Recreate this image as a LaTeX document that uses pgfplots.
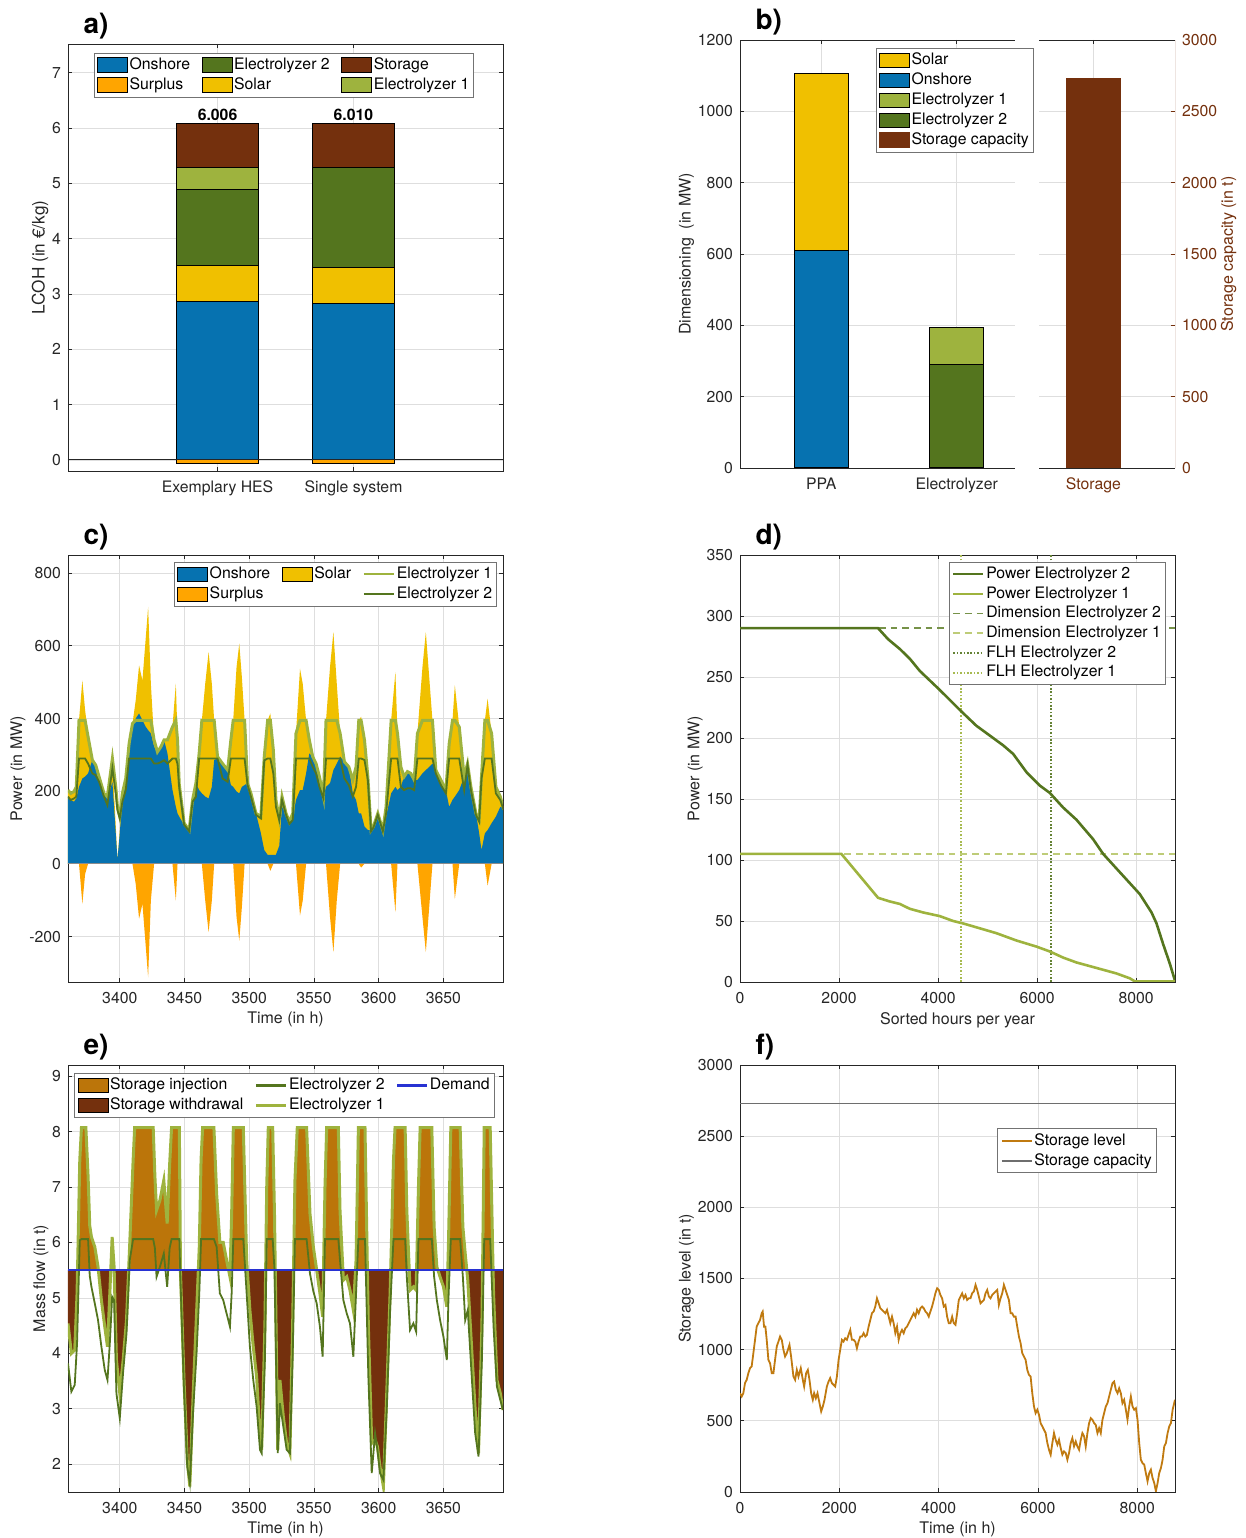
\documentclass[border=0pt]{standalone}
\usepackage{fontspec}
\setmainfont{TeX Gyre Heros}
\usepackage{pgfplots}
\usepackage{pgfplotstable}
\pgfplotsset{compat=1.18}

\definecolor{onshore}{RGB}{6,114,176}
\definecolor{solar}{RGB}{240,192,0}
\definecolor{surplus}{RGB}{255,165,0}
\definecolor{elyA}{RGB}{158,179,62}
\definecolor{elyB}{RGB}{84,117,30}
\definecolor{storage}{RGB}{116,48,13}
\definecolor{inject}{RGB}{187,117,10}
\definecolor{demand}{RGB}{40,50,210}
\definecolor{level}{RGB}{192,122,16}
\definecolor{capc}{RGB}{110,110,110}
\definecolor{axc}{RGB}{38,38,38}
\definecolor{dimB}{RGB}{118,146,72}
\definecolor{dimA}{RGB}{190,204,120}

\newcommand\tfont{\fontsize{7.9}{9.2}\selectfont}
\newcommand\lfont{\fontsize{8}{9.6}\selectfont}
\newcommand\pfont{\bfseries\fontsize{14}{16}\selectfont}

\tikzset{
  boxleg/.style={/pgfplots/legend image code/.code={\draw[##1] (0pt,-3.6pt) rectangle (15pt,3.6pt);}},
  lineleg/.style={/pgfplots/legend image code/.code={\draw[##1] (0pt,0pt) -- (15pt,0pt);}},
}

\pgfplotsset{
  mat/.style={
    scale only axis, anchor=north west,
    width=217.5pt, height=213.5pt,
    axis line style={draw=axc, line width=0.45pt},
    tick style={draw=axc, line width=0.45pt},
    major tick length=2.2pt,
    tick align=inside,
    xmajorgrids, ymajorgrids,
    major grid style={draw=black!13, line width=0.4pt},
    ticklabel style={font=\tfont, text=axc},
    xticklabel style={yshift=-1.5pt},
    label style={font=\lfont, text=axc},
    ylabel shift=-5pt,
    xlabel shift=-2.5pt,
    legend style={font=\tfont, draw=black!55, line width=0.45pt, fill=white,
      inner xsep=1.5pt, inner ysep=1pt, nodes={inner xsep=0.8pt, inner ysep=1.3pt},
      /tikz/every even column/.append style={column sep=5pt}},
    legend cell align=left,
    /pgf/number format/assume math mode=true,
    /pgf/number format/1000 sep={},
    scaled ticks=false,
    title style={font=\pfont, anchor=south west, inner sep=0pt, yshift=-4pt, at={(0.035,1)}},
  },
}

% ---------- panel c data
\pgfplotstableread{
t on tot e1 e2 sur
3360.0 185 199 203 185 0
3362.1 176 194 194 176 0
3364.6 171 199 199 180 0
3366.4 180 212 212 185 0
3368.5 212 395 395 290 0
3371.1 235 505 395 290 -110
3373.2 240 423 395 290 -28
3375.5 249 359 350 276 0
3378.8 286 286 286 249 0
3381.4 272 272 272 244 0
3384.0 244 244 240 226 0
3387.8 199 199 194 185 0
3390.4 176 185 185 162 0
3394.3 226 290 290 263 0
3396.9 84 103 212 194 0
3398.2 11 11 157 148 0
3400.0 84 93 130 125 0
3402.0 185 185 194 171 0
3404.6 231 231 235 203 0
3407.2 331 331 331 290 0
3409.8 377 386 386 290 0
3412.3 400 450 395 290 -55
3414.9 414 546 395 290 -151
3417.5 395 505 395 290 -110
3420.1 377 624 395 290 -229
3421.9 368 707 395 290 -312
3424.0 359 496 395 290 -101
3426.5 322 341 341 276 0
3429.1 308 308 308 276 0
3431.7 322 322 322 280 0
3434.2 341 341 341 285 0
3436.8 304 341 341 276 0
3440.7 203 377 377 290 0
3443.3 157 496 395 290 -101
3444.6 139 350 341 275 0
3445.9 130 220 220 210 0
3449.7 107 112 112 108 0
3453.6 93 93 93 90 0
3456.2 157 176 176 171 0
3458.8 222 222 222 185 0
3461.3 203 304 304 290 0
3463.4 194 395 395 290 0
3466.0 185 496 395 290 -101
3468.6 180 583 395 290 -188
3471.1 212 496 395 290 -101
3472.9 286 395 395 290 0
3475.5 290 295 295 290 0
3479.4 276 276 276 235 0
3483.3 258 258 258 226 0
3485.8 217 341 341 290 0
3487.6 212 395 395 290 0
3490.2 199 542 395 290 -147
3492.3 194 606 395 290 -211
3494.3 212 514 395 290 -119
3496.4 217 395 395 290 0
3498.7 222 222 222 217 0
3501.3 194 194 194 185 0
3505.2 139 139 139 135 0
3509.0 84 130 130 125 0
3511.6 38 300 295 285 0
3514.2 25 395 395 290 0
3516.3 25 414 395 290 -19
3518.6 25 313 313 249 0
3520.6 25 176 176 157 0
3523.2 50 125 125 120 0
3525.3 157 185 185 176 0
3528.4 139 139 139 135 0
3531.0 116 116 116 110 0
3533.6 121 139 139 121 0
3536.1 176 359 359 290 0
3539.2 203 537 395 290 -142
3541.3 203 496 395 290 -101
3543.9 249 395 395 290 0
3546.4 304 341 341 290 0
3549.0 295 295 295 267 0
3551.6 276 276 276 249 0
3554.2 240 240 240 212 0
3557.3 185 185 185 180 0
3559.3 212 395 395 290 0
3562.4 222 542 395 290 -147
3565.0 258 638 395 290 -243
3567.6 276 496 395 290 -101
3570.2 295 359 359 290 0
3573.5 281 281 281 235 0
3576.9 267 267 267 217 0
3580.0 194 231 231 185 0
3582.5 176 267 267 212 0
3584.6 139 395 395 290 0
3586.4 139 405 395 290 -10
3589.0 103 341 341 286 0
3591.6 93 240 240 231 0
3594.1 93 93 93 90 0
3595.9 103 103 103 100 0
3599.3 139 139 139 135 0
3603.2 93 93 93 90 0
3605.7 130 157 157 139 0
3609.6 194 395 395 290 0
3612.9 212 528 395 290 -133
3614.5 203 359 359 290 0
3617.1 212 267 267 212 0
3619.6 240 240 240 203 0
3622.2 254 254 254 208 0
3624.8 249 249 249 208 0
3627.4 231 231 231 203 0
3629.9 231 359 359 290 0
3633.8 249 542 395 290 -147
3636.4 258 638 395 290 -243
3639.0 267 514 395 290 -119
3641.5 276 395 395 290 0
3644.1 258 258 258 249 0
3648.0 231 231 231 217 0
3651.9 203 203 203 194 0
3654.4 157 330 330 290 0
3657.0 176 395 395 290 0
3658.8 185 492 395 290 -97
3662.2 203 377 377 290 0
3666.0 240 240 240 203 0
3668.6 276 276 276 272 0
3671.2 212 212 212 203 0
3675.1 139 139 139 135 0
3677.6 84 121 121 116 0
3679.4 38 240 240 235 0
3682.0 84 395 395 290 0
3684.1 93 455 395 290 -60
3687.2 112 359 359 290 0
3690.5 130 212 212 194 0
3693.9 157 185 185 176 0
3696.5 153 153 150 148 0
}\datac

% ---------- panel e data: t, electrolyzer 1 line, electrolyzer 2 line
\pgfplotstableread{
t e1 e2
3360.0 4.54 3.82
3362.6 4.00 3.31
3365.2 4.06 3.43
3367.0 5.08 4.18
3369.1 7.48 6.04
3370.4 8.07 6.06
3373.8 8.07 6.06
3375.5 7.20 6.06
3376.8 6.30 5.40
3378.1 6.10 5.20
3380.7 5.92 4.90
3383.2 5.56 4.60
3385.8 4.96 4.12
3388.4 4.48 3.70
3390.5 4.12 3.52
3392.3 5.08 4.18
3394.1 6.10 5.02
3395.6 5.56 4.96
3397.4 3.88 3.28
3400.0 3.28 2.83
3402.6 3.88 3.67
3405.2 4.60 4.36
3407.7 5.98 5.68
3410.3 7.48 6.06
3411.5 8.07 6.06
3425.8 8.07 6.06
3427.1 7.20 5.90
3428.4 6.58 5.38
3431.0 6.76 5.56
3434.0 7.12 5.80
3436.6 6.34 5.20
3438.5 7.40 5.90
3440.0 8.07 6.06
3446.0 8.07 6.06
3446.9 5.44 5.30
3449.5 3.58 3.40
3452.1 2.08 1.96
3454.1 1.60 1.66
3456.7 3.28 2.98
3459.3 4.72 4.00
3461.4 5.92 5.08
3462.8 7.50 6.06
3464.0 8.07 6.06
3472.7 8.07 6.06
3474.8 6.88 5.92
3477.3 6.00 5.08
3479.9 6.00 4.96
3482.5 5.68 4.72
3485.1 5.38 4.48
3486.4 6.50 5.08
3487.7 8.07 6.06
3495.4 8.07 6.06
3498.0 5.68 5.08
3500.5 4.78 4.12
3503.1 4.12 3.52
3505.7 3.58 3.04
3508.3 2.50 2.26
3509.6 2.26 2.20
3512.1 4.48 3.88
3513.5 7.00 6.06
3514.7 8.07 6.06
3518.1 8.07 6.06
3519.5 6.50 5.50
3520.7 4.48 3.88
3522.0 2.26 2.20
3523.7 3.52 3.10
3526.3 2.86 2.68
3528.9 2.38 2.26
3531.4 2.20 2.20
3533.5 4.48 3.88
3535.3 7.12 6.06
3537.1 8.07 6.06
3544.3 8.07 6.06
3546.9 6.52 5.44
3549.5 5.92 5.12
3552.1 5.50 4.90
3554.6 5.08 4.48
3556.7 4.66 3.94
3558.5 7.00 6.06
3559.8 8.07 6.06
3568.8 8.07 6.06
3570.1 6.58 5.68
3572.7 5.32 4.96
3575.3 5.38 4.72
3577.8 5.14 4.54
3580.4 4.78 3.94
3582.5 5.68 5.08
3584.3 8.07 6.06
3589.4 8.07 6.06
3592.0 4.48 3.58
3594.6 2.38 1.84
3597.2 2.44 2.56
3599.0 2.32 2.26
3601.0 1.96 1.84
3603.6 1.60 1.72
3606.2 3.28 2.98
3608.8 5.08 4.78
3611.4 7.48 6.06
3612.6 8.07 6.06
3620.4 8.07 6.06
3621.7 6.58 5.38
3624.2 5.14 4.42
3626.8 5.20 4.54
3628.9 5.14 4.39
3630.7 7.00 6.06
3632.0 8.07 6.06
3641.0 8.07 6.06
3642.8 6.28 5.38
3644.9 5.56 4.96
3647.4 5.38 4.60
3650.0 5.20 4.30
3652.6 4.84 3.88
3653.9 6.00 5.00
3655.7 8.07 6.06
3662.9 8.07 6.06
3665.0 6.28 5.38
3666.8 5.80 4.60
3668.8 5.32 4.78
3672.0 4.00 3.52
3674.5 2.98 2.56
3677.1 2.20 2.14
3679.7 4.48 3.88
3681.5 8.07 6.06
3686.1 8.07 6.06
3688.7 5.08 4.48
3691.3 3.52 3.40
3693.9 3.28 3.16
3696.0 2.98 2.98
}\datae

% ---------- panel e storage areas: upper edge of injection, lower edge of withdrawal (demand = 5.5 t)
\pgfplotstableread{
t inj wd
3360.0 5.5 5.5
3360.0 5.5 4.54
3362.6 5.5 4.00
3365.2 5.5 4.06
3367.0 5.5 5.08
3367.5 5.5 5.5
3369.1 7.48 5.5
3370.4 8.07 5.5
3373.8 8.07 5.5
3375.5 7.20 5.5
3376.8 6.30 5.5
3378.1 6.10 5.5
3380.7 5.92 5.5
3383.2 5.56 5.5
3383.4 5.5 5.5
3385.8 5.5 4.96
3388.4 5.5 4.48
3390.5 5.5 4.12
3392.3 5.5 5.08
3393.0 5.5 5.5
3394.1 6.10 5.5
3395.6 5.56 5.5
3395.7 5.5 5.5
3397.4 5.5 3.88
3400.0 5.5 3.28
3402.6 5.5 3.88
3405.2 5.5 4.60
3407.0 5.5 5.5
3407.7 5.98 5.5
3410.3 7.48 5.5
3411.5 8.07 5.5
3425.8 8.07 5.5
3427.1 7.20 5.5
3428.4 6.58 5.5
3431.0 6.76 5.5
3434.0 7.12 5.5
3436.6 6.34 5.5
3438.5 7.40 5.5
3440.0 8.07 5.5
3446.0 8.07 5.5
3446.8 5.5 5.5
3446.9 5.5 5.44
3449.5 5.5 3.58
3452.1 5.5 2.08
3454.1 5.5 1.60
3456.7 5.5 3.28
3459.3 5.5 4.72
3460.8 5.5 5.5
3461.4 5.92 5.5
3462.8 7.50 5.5
3464.0 8.07 5.5
3472.7 8.07 5.5
3474.8 6.88 5.5
3477.3 6.00 5.5
3479.9 6.00 5.5
3482.5 5.68 5.5
3484.0 5.5 5.5
3485.1 5.5 5.38
3485.6 5.5 5.5
3486.4 6.50 5.5
3487.7 8.07 5.5
3495.4 8.07 5.5
3498.0 5.68 5.5
3498.5 5.5 5.5
3500.5 5.5 4.78
3503.1 5.5 4.12
3505.7 5.5 3.58
3508.3 5.5 2.50
3509.6 5.5 2.26
3512.1 5.5 4.48
3512.6 5.5 5.5
3513.5 7.00 5.5
3514.7 8.07 5.5
3518.1 8.07 5.5
3519.5 6.50 5.5
3520.1 5.5 5.5
3520.7 5.5 4.48
3522.0 5.5 2.26
3523.7 5.5 3.52
3526.3 5.5 2.86
3528.9 5.5 2.38
3531.4 5.5 2.20
3533.5 5.5 4.48
3534.3 5.5 5.5
3535.3 7.12 5.5
3537.1 8.07 5.5
3544.3 8.07 5.5
3546.9 6.52 5.5
3549.5 5.92 5.5
3552.1 5.5 5.5
3554.6 5.5 5.08
3556.7 5.5 4.66
3557.5 5.5 5.5
3558.5 7.00 5.5
3559.8 8.07 5.5
3568.8 8.07 5.5
3570.1 6.58 5.5
3571.7 5.5 5.5
3572.7 5.5 5.32
3575.3 5.5 5.38
3577.8 5.5 5.14
3580.4 5.5 4.78
3582.0 5.5 5.5
3582.5 5.68 5.5
3584.3 8.07 5.5
3589.4 8.07 5.5
3590.9 5.5 5.5
3592.0 5.5 4.48
3594.6 5.5 2.38
3597.2 5.5 2.44
3599.0 5.5 2.32
3601.0 5.5 1.96
3603.6 5.5 1.60
3606.2 5.5 3.28
3608.8 5.5 5.08
3609.2 5.5 5.5
3611.4 7.48 5.5
3612.6 8.07 5.5
3620.4 8.07 5.5
3621.7 6.58 5.5
3623.3 5.5 5.5
3624.2 5.5 5.14
3626.8 5.5 5.20
3628.9 5.5 5.14
3629.2 5.5 5.5
3630.7 7.00 5.5
3632.0 8.07 5.5
3641.0 8.07 5.5
3642.8 6.28 5.5
3644.9 5.56 5.5
3645.1 5.5 5.5
3647.4 5.5 5.38
3650.0 5.5 5.20
3652.6 5.5 4.84
3653.5 5.5 5.5
3653.9 6.00 5.5
3655.7 8.07 5.5
3662.9 8.07 5.5
3665.0 6.28 5.5
3666.8 5.80 5.5
3667.8 5.5 5.5
3668.8 5.5 5.32
3672.0 5.5 4.00
3674.5 5.5 2.98
3677.1 5.5 2.20
3679.7 5.5 4.48
3680.0 5.5 5.5
3681.5 8.07 5.5
3686.1 8.07 5.5
3687.5 5.5 5.5
3688.7 5.5 5.08
3691.3 5.5 3.52
3693.9 5.5 3.28
3696.0 5.5 2.98
3696.0 5.5 5.5
}\dataeb

% ---------- panel d data
\pgfplotstableread{
h p
0 290
2788 290
2990 281
3226 273
3428 265
3630 255
3966 242
4168 234
4438 223
4774 210
5044 202
5313 194
5515 187
5785 172
6054 161
6256 155
6525 143
6794 133
7131 117
7333 105
7602 93
7872 81
8074 72
8310 57
8411 48
8545 31
8680 15
8784 1
}\datadtwo
\pgfplotstableread{
h p
0 105
2047 105
2788 69
3024 66
3226 64
3428 60
3697 57
4034 54
4303 50
4505 48
4842 44
5178 40
5582 34
5987 29
6256 25
6525 20
6794 16
7064 13
7333 10
7602 7
7872 3
7973 0.5
8784 0.5
}\datadone

% ---------- panel f data
\pgfplotstableread{
h v
0 694
34 671
67 694
101 765
135 788
168 835
202 870
235 882
269 975
303 1069
336 1162
370 1186
404 1209
437 1256
457 1268
484 1162
511 1162
538 1069
572 928
605 905
639 835
673 835
706 928
740 1022
774 1057
807 1092
841 1069
875 999
908 952
942 975
996 1034
1029 952
1076 811
1110 788
1144 858
1177 811
1224 870
1265 788
1292 741
1332 835
1366 858
1399 788
1433 694
1466 648
1493 694
1527 659
1561 694
1601 624
1635 566
1668 601
1702 648
1749 741
1783 776
1816 800
1850 765
1884 753
1917 741
1951 811
1985 928
2018 999
2052 1069
2085 1057
2119 1080
2153 1069
2186 1104
2220 1139
2254 1069
2287 1069
2321 1057
2354 1010
2388 1057
2422 1092
2455 1092
2489 1116
2523 1092
2556 1104
2590 1162
2624 1209
2657 1256
2691 1268
2724 1303
2758 1361
2792 1326
2825 1291
2859 1280
2893 1268
2926 1256
2960 1280
2994 1232
3027 1186
3061 1232
3094 1186
3128 1116
3162 1162
3195 1069
3229 1116
3263 1139
3296 1116
3330 1151
3364 1162
3397 1186
3431 1209
3464 1232
3498 1256
3532 1232
3565 1280
3599 1256
3633 1291
3666 1303
3700 1291
3734 1268
3767 1256
3801 1232
3834 1268
3868 1303
3902 1349
3935 1396
3969 1431
4003 1420
4036 1384
4070 1361
4103 1303
4137 1314
4171 1232
4204 1186
4238 1186
4272 1232
4305 1186
4339 1174
4373 1256
4406 1349
4440 1373
4473 1396
4507 1361
4541 1384
4574 1349
4608 1361
4642 1361
4675 1396
4709 1408
4743 1455
4776 1420
4810 1373
4843 1326
4877 1338
4911 1349
4944 1396
4978 1420
5012 1373
5045 1361
5079 1384
5113 1396
5146 1408
5180 1420
5213 1314
5247 1361
5281 1396
5314 1455
5348 1420
5382 1384
5415 1349
5449 1256
5482 1256
5516 1232
5550 1232
5583 1162
5617 1092
5651 1045
5684 975
5718 952
5752 928
5785 858
5819 823
5852 811
5886 694
5920 601
5953 554
5987 578
6021 543
6054 484
6088 461
6122 437
6155 414
6189 344
6222 297
6256 262
6290 344
6323 414
6357 367
6391 332
6424 367
6458 309
6492 262
6525 285
6559 274
6592 227
6626 274
6660 344
6693 379
6727 320
6761 355
6794 320
6828 297
6862 367
6895 414
6929 391
6962 320
6996 414
7030 484
7063 519
7097 508
7131 484
7164 472
7198 414
7232 449
7265 414
7299 508
7332 554
7366 601
7400 624
7433 671
7467 718
7501 765
7534 776
7568 718
7602 694
7635 729
7669 694
7702 624
7736 648
7770 578
7803 508
7837 601
7871 671
7904 601
7938 578
7972 589
8005 508
8039 344
8072 227
8106 203
8140 192
8173 133
8207 75
8241 133
8274 157
8308 98
8342 63
8375 5
8409 63
8442 133
8476 168
8510 227
8543 320
8577 344
8611 414
8644 461
8678 484
8712 578
8760 648
}\dataf

\begin{document}
\begin{tikzpicture}
\path[use as bounding box] (0,0) rectangle (623pt,769pt);

% ================= a)
\begin{axis}[mat, at={(34pt,747pt)},
  xmin=-0.1, xmax=3.1, ymin=-0.2, ymax=7.52,
  xtick={1,2}, xticklabels={Exemplary HES,Single system},
  ytick={0,1,...,7},
  ylabel={LCOH (in €/kg)}, ylabel style={font=\fontsize{8.6}{10}\selectfont},
  legend columns=3,
  legend style={at={(0.059,0.980)}, anchor=north west},
  title={a)}]
\addplot[ybar, bar width=0.6, bar shift=0pt, fill=storage, draw=black, line width=0.5pt, forget plot] coordinates {(1,6.075) (2,6.078)};
\addplot[ybar, bar width=0.6, bar shift=0pt, fill=elyA, draw=black, line width=0.5pt, forget plot] coordinates {(1,5.285)};
\addplot[ybar, bar width=0.6, bar shift=0pt, fill=elyB, draw=black, line width=0.5pt, forget plot] coordinates {(1,4.889) (2,5.285)};
\addplot[ybar, bar width=0.6, bar shift=0pt, fill=solar, draw=black, line width=0.5pt, forget plot] coordinates {(1,3.514) (2,3.471)};
\addplot[ybar, bar width=0.6, bar shift=0pt, fill=onshore, draw=black, line width=0.5pt, forget plot] coordinates {(1,2.865) (2,2.835)};
\addplot[ybar, bar width=0.6, bar shift=0pt, fill=surplus, draw=black, line width=0.5pt, forget plot] coordinates {(1,-0.069) (2,-0.068)};
\addplot[axc, line width=0.5pt, forget plot] coordinates {(-0.1,0) (3.1,0)};
\node[font=\bfseries\tfont, anchor=south, inner sep=1.5pt] at (axis cs:1,6.075) {6.006};
\node[font=\bfseries\tfont, anchor=south, inner sep=1.5pt] at (axis cs:2,6.078) {6.010};
\addlegendimage{boxleg, fill=onshore, draw=black}\addlegendentry{Onshore}
\addlegendimage{boxleg, fill=elyB, draw=black}\addlegendentry{Electrolyzer 2}
\addlegendimage{boxleg, fill=storage, draw=black}\addlegendentry{Storage}
\addlegendimage{boxleg, fill=surplus, draw=black}\addlegendentry{Surplus}
\addlegendimage{boxleg, fill=solar, draw=black}\addlegendentry{Solar}
\addlegendimage{boxleg, fill=elyA, draw=black}\addlegendentry{Electrolyzer 1}
\end{axis}

% ================= b) left part
\begin{axis}[mat, at={(370pt,749pt)}, width=137.5pt, height=214pt,
  xmin=0.4, xmax=2.43, ymin=0, ymax=1200,
  xtick={1,2}, xticklabels={PPA,Electrolyzer},
  ytick={0,200,...,1200}, ytick pos=left,
  ylabel={Dimensioning\ \ (in MW)},
  separate axis lines, y axis line style={draw=none},
  legend style={at={(0.493,0.981)}, anchor=north west},
  title={b)}, title style={at={(0.055,1)}}]
\addplot[ybar, bar width=0.4, bar shift=0pt, fill=solar, draw=black, line width=0.5pt, forget plot] coordinates {(1,1105)};
\addplot[ybar, bar width=0.4, bar shift=0pt, fill=onshore, draw=black, line width=0.5pt, forget plot] coordinates {(1,609)};
\addplot[ybar, bar width=0.4, bar shift=0pt, fill=elyA, draw=black, line width=0.5pt, forget plot] coordinates {(2,395)};
\addplot[ybar, bar width=0.4, bar shift=0pt, fill=elyB, draw=black, line width=0.5pt, forget plot] coordinates {(2,290)};
\draw[axc, line width=0.45pt] (rel axis cs:0,0) -- (rel axis cs:0,1);
\addlegendimage{boxleg, fill=solar, draw=black}\addlegendentry{Solar}
\addlegendimage{boxleg, fill=onshore, draw=black}\addlegendentry{Onshore}
\addlegendimage{boxleg, fill=elyA, draw=black}\addlegendentry{Electrolyzer 1}
\addlegendimage{boxleg, fill=elyB, draw=black}\addlegendentry{Electrolyzer 2}
\addlegendimage{boxleg, fill=storage, draw=storage}\addlegendentry{Storage capacity}
\end{axis}

% ================= b) right part
\begin{axis}[mat, at={(519.5pt,749pt)}, width=68pt, height=214pt,
  xmin=2.6, xmax=3.6, ymin=0, ymax=3000,
  xtick={3}, xticklabels={Storage}, xticklabel style={text=storage},
  ytick={0,500,...,3000}, ytick pos=right, yticklabel pos=right,
  yticklabel style={text=storage}, ytick style={draw=storage},
  ylabel={Storage capacity (in t)},
  every axis y label/.style={at={(axis description cs:1.395,0.5)}, rotate=90, anchor=center, font=\lfont, text=storage},
  separate axis lines, y axis line style={draw=none}]
\addplot[ybar, bar width=0.4, bar shift=0pt, fill=storage, draw=storage, line width=0.5pt] coordinates {(3,2730)};
\draw[storage, line width=0.5pt] (rel axis cs:1,0) -- (rel axis cs:1,1);
\end{axis}

% ================= c)
\begin{axis}[mat, at={(34pt,491.5pt)},
  xmin=3360, xmax=3696, ymin=-325, ymax=850,
  xtick={3400,3450,...,3650}, ytick={-200,0,...,800},
  xlabel={Time (in h)}, ylabel={Power (in MW)},
  legend columns=3,
  legend style={at={(0.987,0.984)}, anchor=north east},
  title={c)}]
\addplot[fill=solar, draw=none, forget plot] table[x=t,y=tot]{\datac} \closedcycle;
\addplot[fill=onshore, draw=none, forget plot] table[x=t,y=on]{\datac} \closedcycle;
\addplot[fill=surplus, draw=none, forget plot] table[x=t,y=sur]{\datac} \closedcycle;
\addplot[black!45, line width=0.5pt, forget plot] coordinates {(3360,0) (3696,0)};
\addplot[elyA, line width=1.5pt, forget plot] table[x=t,y=e1]{\datac};
\addplot[elyB, line width=0.9pt, forget plot] table[x=t,y=e2]{\datac};
\addlegendimage{boxleg, fill=onshore, draw=none}\addlegendentry{Onshore}
\addlegendimage{boxleg, fill=solar, draw=none}\addlegendentry{Solar}
\addlegendimage{lineleg, draw=elyA, line width=1.2pt}\addlegendentry{Electrolyzer 1}
\addlegendimage{boxleg, fill=surplus, draw=none}\addlegendentry{Surplus}
\addlegendimage{empty legend}\addlegendentry{}
\addlegendimage{lineleg, draw=elyB, line width=1.1pt}\addlegendentry{Electrolyzer 2}
\end{axis}

% ================= d)
\begin{axis}[mat, at={(370pt,491.5pt)},
  xmin=0, xmax=8784, ymin=0, ymax=350,
  xtick={0,2000,...,8000}, ytick={0,50,...,350},
  xlabel={Sorted hours per year}, ylabel={Power (in MW)},
  legend style={at={(0.979,0.984)}, anchor=north east},
  title={d)}]
\addplot[dimB, line width=0.8pt, dash pattern=on 3.3pt off 2.5pt, forget plot] coordinates {(0,290) (8784,290)};
\addplot[dimA, line width=0.8pt, dash pattern=on 3.3pt off 2.5pt, forget plot] coordinates {(0,105) (8784,105)};
\addplot[elyB!90, line width=0.8pt, dash pattern=on 0.8pt off 0.9pt, forget plot] coordinates {(6276,0) (6276,350)};
\addplot[elyA!90, line width=0.8pt, dash pattern=on 0.8pt off 0.9pt, forget plot] coordinates {(4458,0) (4458,350)};
\addplot[elyB, line width=1.3pt, forget plot] table[x=h,y=p]{\datadtwo};
\addplot[elyA, line width=1.3pt, forget plot] table[x=h,y=p]{\datadone};
\addlegendimage{lineleg, draw=elyB, line width=1.3pt}\addlegendentry{Power Electrolyzer 2}
\addlegendimage{lineleg, draw=elyA, line width=1.3pt}\addlegendentry{Power Electrolyzer 1}
\addlegendimage{lineleg, draw=dimB, line width=0.8pt, dash pattern=on 3.3pt off 2.5pt}\addlegendentry{Dimension Electrolyzer 2}
\addlegendimage{lineleg, draw=dimA, line width=0.8pt, dash pattern=on 3.3pt off 2.5pt}\addlegendentry{Dimension Electrolyzer 1}
\addlegendimage{lineleg, draw=elyB!90, line width=0.8pt, dash pattern=on 0.8pt off 0.9pt}\addlegendentry{FLH Electrolyzer 2}
\addlegendimage{lineleg, draw=elyA!90, line width=0.8pt, dash pattern=on 0.8pt off 0.9pt}\addlegendentry{FLH Electrolyzer 1}
\end{axis}

% ================= e)
\begin{axis}[mat, at={(34pt,236.5pt)},
  xmin=3360, xmax=3696, ymin=1.5, ymax=9.2,
  xtick={3400,3450,...,3650}, ytick={2,3,...,9},
  xlabel={Time (in h)}, ylabel={Mass flow (in t)},
  legend columns=3,
  legend style={at={(0.981,0.981)}, anchor=north east},
  title={e)}]
\addplot[fill=inject, draw=none, forget plot] table[x=t,y=inj]{\dataeb};
\addplot[fill=storage, draw=none, forget plot] table[x=t,y=wd]{\dataeb};
\addplot[elyA, line width=1.5pt, forget plot] table[x=t,y=e1]{\datae};
\addplot[elyB, line width=0.9pt, forget plot] table[x=t,y=e2]{\datae};
\addplot[demand, line width=1.1pt, forget plot] coordinates {(3360,5.5) (3696,5.5)};
\addlegendimage{boxleg, fill=inject, draw=none}\addlegendentry{Storage injection}
\addlegendimage{lineleg, draw=elyB, line width=1.1pt}\addlegendentry{Electrolyzer 2}
\addlegendimage{lineleg, draw=demand, line width=1.1pt}\addlegendentry{Demand}
\addlegendimage{boxleg, fill=storage, draw=none}\addlegendentry{Storage withdrawal}
\addlegendimage{lineleg, draw=elyA, line width=1.2pt}\addlegendentry{Electrolyzer 1}
\end{axis}

% ================= f)
\begin{axis}[mat, at={(370pt,236.5pt)},
  xmin=0, xmax=8760, ymin=0, ymax=3000,
  xtick={0,2000,...,8000}, ytick={0,500,...,3000},
  xlabel={Time (in h)}, ylabel={Storage level (in t)},
  legend style={at={(0.958,0.852)}, anchor=north east},
  title={f)}]
\addplot[level, line width=0.9pt, forget plot] table[x=h,y=v]{\dataf};
\addplot[capc, line width=0.9pt, forget plot] coordinates {(0,2730) (8760,2730)};
\addlegendimage{lineleg, draw=level, line width=0.9pt}\addlegendentry{Storage level}
\addlegendimage{lineleg, draw=capc, line width=0.9pt}\addlegendentry{Storage capacity}
\end{axis}
\end{tikzpicture}
\end{document}
